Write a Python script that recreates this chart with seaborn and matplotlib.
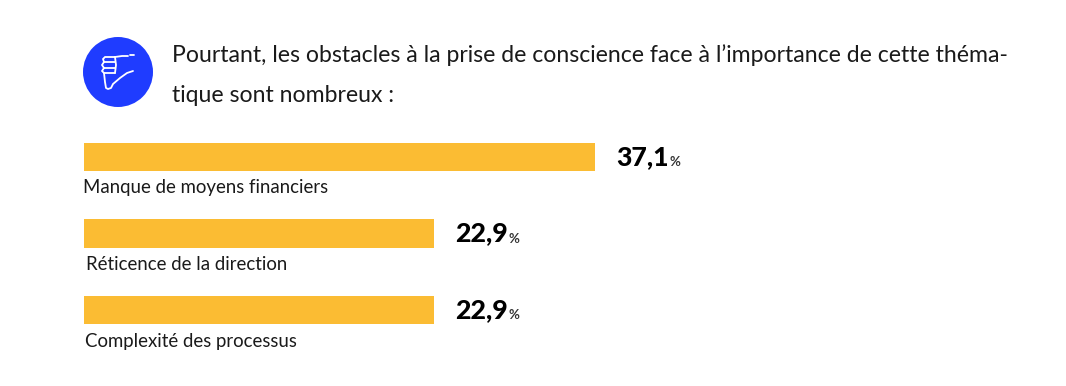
import matplotlib
matplotlib.use("Agg")
import matplotlib.pyplot as plt
from matplotlib.patches import Circle
from matplotlib.transforms import Affine2D
import pandas as pd
import seaborn as sns

categories = ["Manque de moyens financiers", "Réticence de la direction", "Complexité des processus"]
# printed percentages
value_labels = ["37,1", "22,9", "22,9"]
# bar lengths as drawn in the source (22,9 bars are longer than their share of 37,1)
bar_lengths = [37.1, 25.4, 25.4]
title_lines = [
    "Pourtant, les obstacles à la prise de conscience face à l’importance de cette théma-",
    "tique sont nombreux :",
]

W, H = 1066, 386
BAR_COLOR = "#FBBC33"
TEXT_COLOR = "#1a1a1a"

sns.set_theme(style="white")
plt.rcParams["font.family"] = ["Lato", "DejaVu Sans"]

fig = plt.figure(figsize=(W / 100, H / 100), dpi=100, facecolor="white")
# pixel coordinates, origin top left
px = Affine2D().scale(1, -1).translate(0, H)

# bars
top, bottom = 119, 348
ax = fig.add_axes([84 / W, 1 - bottom / H, (W - 84) / W, (bottom - top) / H])
df = pd.DataFrame({"cat": categories, "val": bar_lengths})
sns.barplot(data=df, y="cat", x="val", color=BAR_COLOR, saturation=1, width=0.37, linewidth=0, ax=ax)
ax.set_xlim(0, (W - 84) / (511 / 37.1))
ax.set_xlabel("")
ax.set_ylabel("")
ax.set_xticks([])
ax.set_yticks([])
sns.despine(ax=ax, left=True, bottom=True)
ax.patch.set_alpha(0)

# category captions and values
cap_x = [83, 86, 85]
cap_y = [188, 264, 341]
for i, cat in enumerate(categories):
    fig.text(cap_x[i], cap_y[i], cat, transform=px, fontsize=13.4, color=TEXT_COLOR,
             va="center", ha="left")
    bar_end = ax.patches[i].get_width()
    ann = ax.annotate(value_labels[i], xy=(bar_end, i), xytext=(21, 0), textcoords="offset pixels",
                      fontsize=19.3, fontweight="black", color="black", va="center", ha="left")
    ax.annotate("%", xy=(1, 0.28), xycoords=ann, xytext=(1, 0), textcoords="offset pixels",
                fontsize=9.5, fontweight="bold", color="#333333", va="center", ha="left")

# header text
fig.text(172, 55, title_lines[0], transform=px, fontsize=16.6, color=TEXT_COLOR, va="center", ha="left")
fig.text(172, 96, title_lines[1], transform=px, fontsize=16.6, color=TEXT_COLOR, va="center", ha="left")

# thumbs down icon
fig.add_artist(Circle((118, 72), 35, transform=px, facecolor="#1F3CFF", edgecolor="none"))
for xs, ys in [
    ([115, 122, 128], [57, 56, 56]),
    ([130, 134], [55, 55]),
    ([115, 105, 103, 104, 115], [57, 57, 59, 62, 62]),
    ([104, 102, 104, 115], [62, 65, 68, 68]),
    ([104, 102, 104, 115], [68, 71, 73, 73]),
    ([115, 116, 115], [57, 65, 73]),
    ([104, 105, 106, 108, 111, 113, 120, 127, 133], [73, 82, 88, 89, 88, 84, 78, 73, 71]),
]:
    fig.add_artist(plt.Line2D(xs, ys, transform=px, color="white", lw=1.3))

fig.savefig("out.png", dpi=100, facecolor="white")
